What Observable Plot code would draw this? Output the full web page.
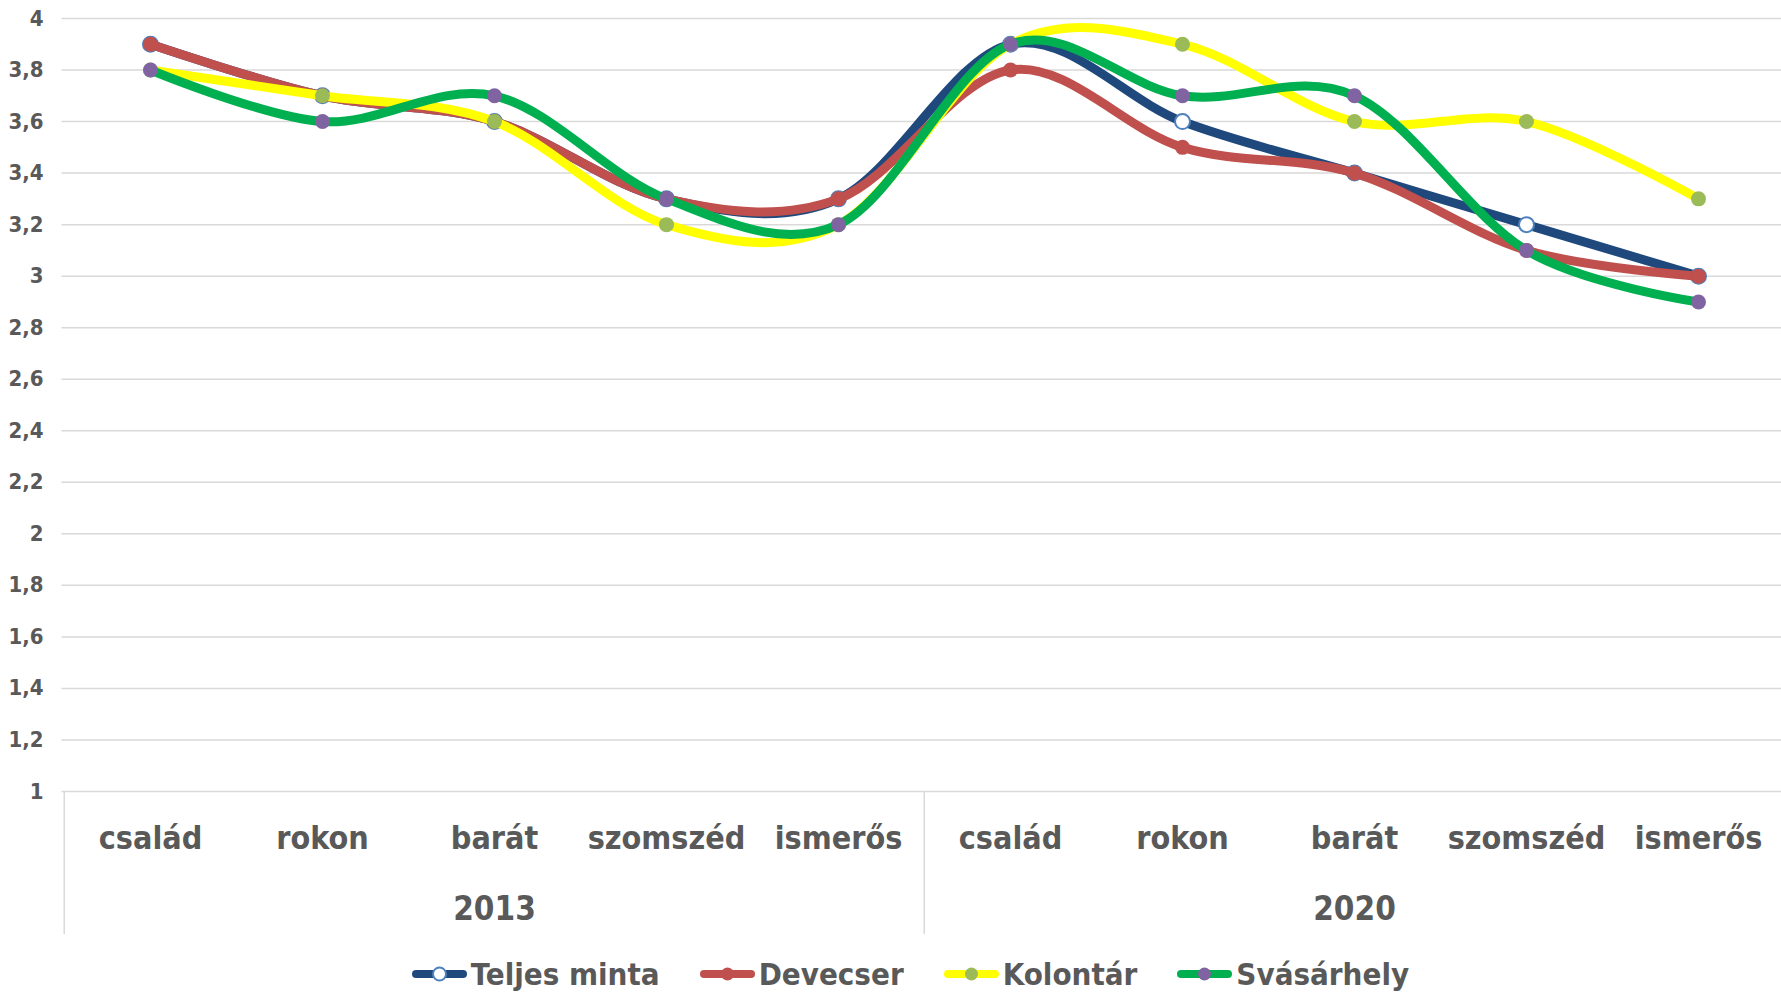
<!DOCTYPE html>
<html><head><meta charset="utf-8">
<script src="https://cdn.jsdelivr.net/npm/d3@7"></script>
<script src="https://cdn.jsdelivr.net/npm/@observablehq/plot@0.6"></script>
<style>
html,body{margin:0;padding:0;background:#fff;overflow:hidden;}
body{font-family:"Liberation Sans Narrow","DejaVu Sans Condensed","Roboto",sans-serif;}
#legend{display:flex;justify-content:center;align-items:center;height:48px;padding-left:40px;color:#595959;font-weight:bold;font-size:31px;}
.item{display:flex;align-items:center;margin:0 20px;}
.item svg{margin-right:4px;}
</style></head><body>
<div id="chart"></div>
<div id="legend"></div>
<script>
const years = ["2013", "2020"];
const categories = ["család", "rokon", "barát", "szomszéd", "ismerős"];
const seriesNames = ["Teljes minta", "Devecser", "Kolontár", "Svásárhely"];
const teljesMinta = [3.9, 3.7, 3.6, 3.3, 3.3, 3.9, 3.6, 3.4, 3.2, 3.0];
const devecser    = [3.9, 3.7, 3.6, 3.3, 3.3, 3.8, 3.5, 3.4, 3.1, 3.0];
const kolontar    = [3.8, 3.7, 3.6, 3.2, 3.2, 3.9, 3.9, 3.6, 3.6, 3.3];
const svasarhely  = [3.8, 3.6, 3.7, 3.3, 3.2, 3.9, 3.7, 3.7, 3.1, 2.9];
const yTicks = [1, 1.2, 1.4, 1.6, 1.8, 2, 2.2, 2.4, 2.6, 2.8, 3, 3.2, 3.4, 3.6, 3.8, 4];

const lineColors = ["#1F497D", "#C0504D", "#FFFF00", "#00B050"];
const markerFill = ["#FFFFFF", "#C0504D", "#9BBB59", "#8064A2"];
const markerStroke = ["#4F81BD", "#C0504D", "#9BBB59", "#8064A2"];
const seriesValues = [teljesMinta, devecser, kolontar, svasarhely];

const keys = years.flatMap(y => categories.map(c => `${y}|${c}`));
const rows = seriesNames.flatMap((s, si) => keys.map((k, i) => ({series: s, si, key: k, value: seriesValues[si][i]})));

const W = 1781, H = 950, mL = 61.5, mR = -5.5, mT = 18, mB = 159;
const plotH = H - mT - mB;
const step = (W - mL - mR) / keys.length;
const fam = '"Liberation Sans Narrow","DejaVu Sans Condensed","Roboto",sans-serif';

const seriesMarks = seriesNames.flatMap((s, si) => {
  const d = rows.filter(r => r.si === si);
  return [
    Plot.line(d, {x: "key", y: "value", stroke: lineColors[si], strokeWidth: 9, curve: "cardinal", strokeLinecap: "round", strokeLinejoin: "round"}),
    Plot.dot(d, {x: "key", y: "value", r: 7.5, fill: markerFill[si], stroke: markerStroke[si], strokeWidth: si === 0 ? 2 : 0})
  ];
});

const chart = Plot.plot({
  width: W, height: H,
  marginLeft: mL, marginRight: mR, marginTop: mT, marginBottom: mB,
  style: {fontFamily: fam, background: "#fff", overflow: "hidden"},
  x: {type: "point", domain: keys, padding: 0.5, axis: null},
  y: {domain: [1, 4], axis: null, label: null},
  marks: [
    Plot.gridY(yTicks, {stroke: "#D9D9D9", strokeOpacity: 1, strokeWidth: 1.5}),
    Plot.ruleX([keys[0], keys[5]], {x: d => d, dx: -step / 2, stroke: "#D9D9D9", strokeWidth: 1.5, insetTop: plotH, insetBottom: -143}),
    Plot.axisY({ticks: yTicks, label: null, tickSize: 0, tickPadding: 18.5, fontSize: 22, fontWeight: "bold", color: "#595959", tickFormat: d => String(+d.toFixed(1)).replace(".", ",")}),
    Plot.text(keys, {x: d => d, text: d => d.split("|")[1], frameAnchor: "bottom", dy: 47, lineAnchor: "middle", fontSize: 32, fontWeight: "bold", fill: "#595959"}),
    Plot.text(years, {x: y => `${y}|barát`, text: d => d, frameAnchor: "bottom", dy: 118, lineAnchor: "middle", fontSize: 33, fontWeight: "bold", fill: "#595959"}),
    ...seriesMarks
  ]
});
document.getElementById("chart").appendChild(chart);

const legend = document.getElementById("legend");
seriesNames.forEach((s, si) => {
  const item = document.createElement("div");
  item.className = "item";
  item.innerHTML = `<svg width="55" height="18"><line x1="4" y1="9" x2="51" y2="9" stroke="${lineColors[si]}" stroke-width="8" stroke-linecap="round"/><circle cx="27.5" cy="9" r="6.5" fill="${markerFill[si]}" stroke="${markerStroke[si]}" stroke-width="${si === 0 ? 2 : 0}"/></svg><span>${s}</span>`;
  legend.appendChild(item);
});
</script>
</body></html>
